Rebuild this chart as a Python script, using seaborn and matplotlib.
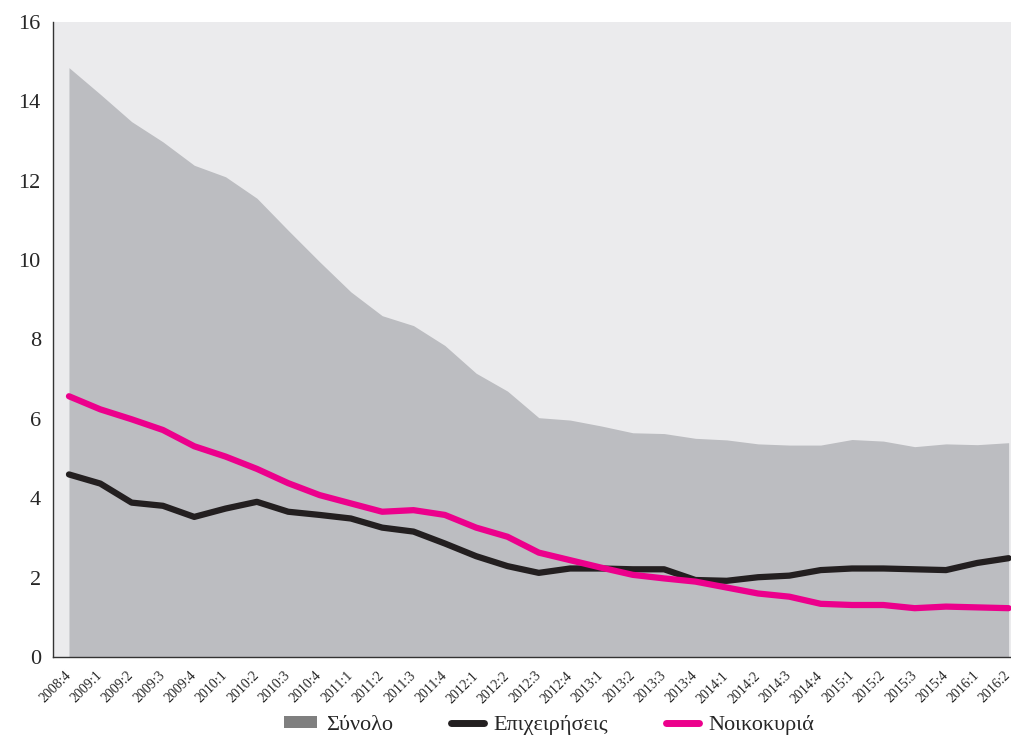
import numpy as np
import pandas as pd
import matplotlib
matplotlib.use("Agg")
import matplotlib.pyplot as plt
import matplotlib.transforms as mtransforms
import seaborn as sns
from matplotlib.patches import Patch
from matplotlib.lines import Line2D

quarters = ["2008:4", "2009:1", "2009:2", "2009:3", "2009:4", "2010:1", "2010:2", "2010:3",
            "2010:4", "2011:1", "2011:2", "2011:3", "2011:4", "2012:1", "2012:2", "2012:3",
            "2012:4", "2013:1", "2013:2", "2013:3", "2013:4", "2014:1", "2014:2", "2014:3",
            "2014:4", "2015:1", "2015:2", "2015:3", "2015:4", "2016:1", "2016:2"]

total = [14.85, 14.18, 13.49, 12.98, 12.39, 12.10, 11.56, 10.75, 9.96, 9.20, 8.60, 8.35,
         7.85, 7.15, 6.70, 6.03, 5.97, 5.82, 5.65, 5.63, 5.51, 5.47, 5.37, 5.34, 5.34,
         5.48, 5.44, 5.30, 5.37, 5.35, 5.40]

business = [4.60, 4.37, 3.89, 3.81, 3.53, 3.74, 3.91, 3.66, 3.58, 3.49, 3.26, 3.16,
            2.86, 2.54, 2.29, 2.12, 2.23, 2.23, 2.21, 2.21, 1.94, 1.92, 2.01, 2.05,
            2.19, 2.23, 2.23, 2.21, 2.19, 2.37, 2.49]

households = [6.57, 6.24, 5.99, 5.72, 5.31, 5.05, 4.74, 4.38, 4.08, 3.87, 3.66, 3.70,
              3.58, 3.26, 3.03, 2.63, 2.44, 2.25, 2.07, 1.98, 1.90, 1.75, 1.60, 1.52,
              1.34, 1.31, 1.31, 1.23, 1.27, 1.25, 1.23]

labels = ["Σύνολο", "Επιχειρήσεις", "Νοικοκυριά"]
colors = ["#BCBDC1", "#231F20", "#EC008C"]
legend_patch_color = "#7F7F7F"
bg_color = "#EBEBED"

sns.set_style("white")
plt.rcParams["font.family"] = ["Liberation Serif", "DejaVu Serif"]

fig = plt.figure(figsize=(10.12, 7.36), dpi=100)
ax = fig.add_axes([53.3 / 1012, 79 / 736, (1024.3 - 53.3) / 1012, 635 / 736])
ax.set_facecolor(bg_color)

x = np.arange(len(quarters))
df = pd.DataFrame({"x": x, "total": total, "business": business, "households": households})

ax.fill_between(df["x"], 0, df["total"], color=colors[0], linewidth=0, zorder=1)
sns.lineplot(data=df, x="x", y="business", color=colors[1], linewidth=4.5, ax=ax, zorder=3)
sns.lineplot(data=df, x="x", y="households", color=colors[2], linewidth=4.5, ax=ax, zorder=4)

ax.set_xlim(-0.5, len(quarters) - 0.5)
ax.set_ylim(0, 16)
ax.set_yticks(np.arange(0, 17, 2))
ax.set_yticklabels([str(v) for v in range(0, 17, 2)], fontsize=16)

ax.set_xticks(np.arange(-0.5, len(quarters), 1))
ax.set_xticklabels([])
ax.set_xticks(x, minor=True)
ax.set_xticklabels(quarters, minor=True, rotation=45, ha="right", va="center",
                   rotation_mode="anchor", fontsize=10)
offset = mtransforms.ScaledTranslation(-3 / 100, 0, fig.dpi_scale_trans)
for lbl in ax.get_xticklabels(minor=True):
    lbl.set_transform(lbl.get_transform() + offset)
ax.tick_params(axis="x", which="major", direction="out", length=5, width=1, color="#333333")
ax.tick_params(axis="x", which="minor", length=0, pad=12)
ax.tick_params(axis="y", direction="out", length=5, width=1, color="#333333", pad=4)

ax.set_xlabel("")
ax.set_ylabel("")
for s in ["top", "right"]:
    ax.spines[s].set_visible(False)
for s in ["left", "bottom"]:
    ax.spines[s].set_color("#333333")
    ax.spines[s].set_linewidth(1)

handles = [Patch(facecolor=legend_patch_color, edgecolor="none"),
           Line2D([0], [0], color=colors[1], linewidth=5),
           Line2D([0], [0], color=colors[2], linewidth=5)]
fig.legend(handles, labels, loc="center", bbox_to_anchor=(549 / 1012, 1 - 725 / 736), ncol=3,
           frameon=False, fontsize=16, handlelength=1.5, handleheight=0.5, columnspacing=2.6,
           handletextpad=0.4)

fig.savefig("out.png", dpi=100)
